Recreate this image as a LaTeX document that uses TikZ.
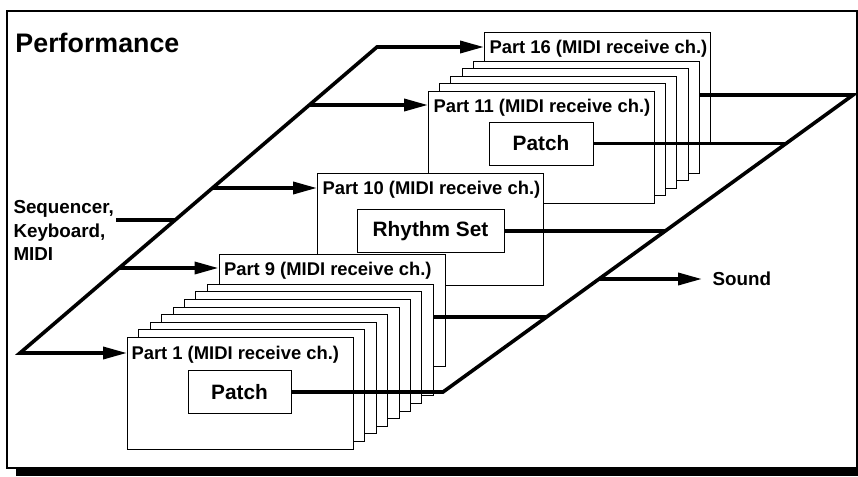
\documentclass[tikz,border=0pt]{standalone}
\usepackage{fontspec}
\setmainfont{Liberation Sans}
\usetikzlibrary{arrows.meta,positioning}

\begin{document}
\begin{tikzpicture}[x=1pt, y=-1pt, line width=1pt,
  partbox/.style={draw, fill=white, anchor=north west, inner sep=0pt,
    minimum width=226pt, minimum height=111.5pt},
  patchbox/.style={draw, fill=white, inner sep=0pt, minimum height=43pt,
    font=\fontsize{20.8}{24}\selectfont\bfseries},
  partlabel/.style={inner sep=0pt, anchor=base west,
    font=\fontsize{18.4}{22}\selectfont\bfseries},
  sidelabel/.style={inner sep=0pt, anchor=base west,
    font=\fontsize{18.8}{22}\selectfont\bfseries},
  bus/.style={line width=3.6pt},
  feed/.style={bus, -{Triangle[length=24pt, width=12pt]}}]

  \useasboundingbox (0,0) rectangle (858,476);
  % frame
  \draw[line width=1.5pt] (7,11) rectangle (857,468);
  \fill (16,469) rectangle (858,476);
  \node[inner sep=0pt, anchor=base west, font=\fontsize{26.8}{30}\selectfont\bfseries]
    (title) at (15,53) {Performance};

  % parts 11-16
  \node[partbox] (p16) at (484,32) {};
  \node[partlabel, below right=21.5pt and 5pt of p16.north west, partlabel] (p16l) {Part 16 (MIDI receive ch.)};
  \foreach \k in {4,3,...,1} {
    \pgfmathtruncatemacro\n{\k+11}
    \node[partbox] (p\n) at (428+11.2*\k, 91-7.5*\k) {};
  }
  \node[partbox] (p11) at (428,91) {};
  \node[below right=21.5pt and 5pt of p11.north west, partlabel] (p11l) {Part 11 (MIDI receive ch.)};
  \node[patchbox, minimum width=104pt] (patch11) at (541,143.5) {Patch};

  % part 10
  \node[partbox] (p10) at (317,173) {};
  \node[below right=21.5pt and 5pt of p10.north west, partlabel] (p10l) {Part 10 (MIDI receive ch.)};
  \node[patchbox, minimum width=147pt] (rhythm) at (430.5,231) {Rhythm Set};

  % parts 1-9
  \node[partbox] (p9) at (218.5,254) {};
  \node[below right=21.5pt and 5pt of p9.north west, partlabel] (p9l) {Part 9 (MIDI receive ch.)};
  \foreach \k in {7,6,...,1} {
    \pgfmathtruncatemacro\n{\k+1}
    \node[partbox] (p\n) at (127+11.4*\k, 337-7.6*\k) {};
  }
  \node[partbox] (p1) at (127,337) {};
  \node[below right=22pt and 4pt of p1.north west, partlabel] (p1l) {Part 1 (MIDI receive ch.)};
  \node[patchbox, minimum width=103pt] (patch1) at (239.5,392) {Patch};

  % input side
  \node[sidelabel] (seq) at (13,213.5) {Sequencer,};
  \node[sidelabel] (kbd) at (13,237) {Keyboard,};
  \node[sidelabel] (midi) at (13,260.5) {MIDI};
  \coordinate (ibot) at (20,353); \coordinate (itop) at (377,47);
  \coordinate (src) at (116,220); \coordinate (isrc) at (175,220);
  \coordinate (i11) at (309,105); \coordinate (i10) at (212,188);
  \coordinate (i9) at (119,268);
  \draw[bus, {Triangle[length=24pt, width=12pt]}-{Triangle[length=24pt, width=12pt]}]
    (ibot -| p1.west) -- (ibot) -- (itop) -- (itop -| p16.west);
  \draw[bus] (src) -- (isrc);
  \draw[feed] (i11) -- (i11 -| p11.west);
  \draw[feed] (i10) -- (i10 -| p10.west);
  \draw[feed] (i9) -- (i9 -| p9.west);

  % output side
  \coordinate (obot) at (443,392); \coordinate (otop) at (853,95);
  \coordinate (j11) at (786.1,143.5); \coordinate (j10) at (665.3,231);
  \coordinate (jsnd) at (599,279); \coordinate (j9) at (546.5,317);
  \node[sidelabel, anchor=west] (sound) at (712,279) {Sound};
  \draw[bus] (patch1.east) -- (obot) -- (otop) -- (otop -| p15.east);
  \draw[bus] (patch11.east) -- (j11);
  \draw[bus] (rhythm.east) -- (j10);
  \draw[bus] (p8.east |- j9) -- (j9);
  \draw[feed] (jsnd) -- ([xshift=-10pt]sound.west);
\end{tikzpicture}
\end{document}
